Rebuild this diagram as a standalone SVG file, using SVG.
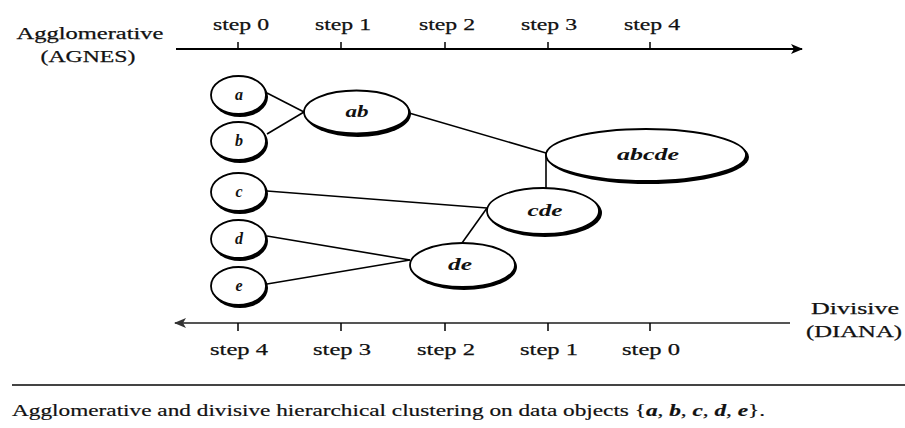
<svg xmlns="http://www.w3.org/2000/svg" width="905" height="428" viewBox="0 0 905 428">
<style>
text{font-family:"Liberation Serif","DejaVu Serif",serif;fill:#111}
.lbl{font-size:17px;text-anchor:middle;stroke:#111;stroke-width:0.25}
.nl{font-size:16px;font-style:italic;font-weight:bold;text-anchor:middle}
.sh{fill:#000}
.nd{fill:#fff;stroke:#000;stroke-width:1.8}
.ln{stroke:#000;stroke-width:1.6;fill:none}
.tk{stroke:#000;stroke-width:1.5}
</style>
<defs>
<marker id="arr" markerWidth="12" markerHeight="10" refX="11" refY="5" orient="auto" markerUnits="userSpaceOnUse">
<path d="M0,0 L12,5 L0,10 L3,5 Z" fill="#000"/>
</marker>
<marker id="arrg" markerWidth="12" markerHeight="10" refX="11" refY="5" orient="auto" markerUnits="userSpaceOnUse">
<path d="M0,0 L12,5 L0,10 L3,5 Z" fill="#333"/>
</marker>
</defs>
<rect width="905" height="428" fill="#fff"/>

<g id="top-axis">
<line x1="176" y1="49" x2="802" y2="49" stroke="#000" stroke-width="1.8" marker-end="url(#arr)"/>
<line class="tk" x1="238" y1="42" x2="238" y2="49"/>
<line class="tk" x1="341" y1="42" x2="341" y2="49"/>
<line class="tk" x1="445" y1="42" x2="445" y2="49"/>
<line class="tk" x1="548" y1="42" x2="548" y2="49"/>
<line class="tk" x1="650" y1="42" x2="650" y2="49"/>
<text class="lbl" x="241" y="30" textLength="56" lengthAdjust="spacingAndGlyphs">step 0</text>
<text class="lbl" x="343" y="30" textLength="56" lengthAdjust="spacingAndGlyphs">step 1</text>
<text class="lbl" x="447" y="30" textLength="56" lengthAdjust="spacingAndGlyphs">step 2</text>
<text class="lbl" x="549" y="30" textLength="56" lengthAdjust="spacingAndGlyphs">step 3</text>
<text class="lbl" x="652" y="30" textLength="56" lengthAdjust="spacingAndGlyphs">step 4</text>
<text class="lbl" x="90" y="39" textLength="147" lengthAdjust="spacingAndGlyphs">Agglomerative</text>
<text class="lbl" x="88" y="62" textLength="95" lengthAdjust="spacingAndGlyphs">(AGNES)</text>
</g>

<g id="bottom-axis">
<line x1="790" y1="323" x2="175" y2="323" stroke="#555" stroke-width="2.2" marker-end="url(#arrg)"/>
<line class="tk" x1="238" y1="323" x2="238" y2="331"/>
<line class="tk" x1="341" y1="323" x2="341" y2="331"/>
<line class="tk" x1="445" y1="323" x2="445" y2="331"/>
<line class="tk" x1="548" y1="323" x2="548" y2="331"/>
<line class="tk" x1="650" y1="323" x2="650" y2="331"/>
<text class="lbl" x="239" y="355" textLength="58" lengthAdjust="spacingAndGlyphs">step 4</text>
<text class="lbl" x="342" y="355" textLength="58" lengthAdjust="spacingAndGlyphs">step 3</text>
<text class="lbl" x="446" y="355" textLength="58" lengthAdjust="spacingAndGlyphs">step 2</text>
<text class="lbl" x="549" y="355" textLength="58" lengthAdjust="spacingAndGlyphs">step 1</text>
<text class="lbl" x="651" y="355" textLength="58" lengthAdjust="spacingAndGlyphs">step 0</text>
<text class="lbl" x="855" y="314" textLength="88" lengthAdjust="spacingAndGlyphs">Divisive</text>
<text class="lbl" x="854" y="337" textLength="96" lengthAdjust="spacingAndGlyphs">(DIANA)</text>
</g>

<g id="connectors">
<line class="ln" x1="267" y1="93" x2="304" y2="112"/>
<line class="ln" x1="267" y1="134" x2="304" y2="112"/>
<line class="ln" x1="409" y1="113" x2="546" y2="153"/>
<line class="ln" x1="546" y1="153" x2="546" y2="188"/>
<line class="ln" x1="267" y1="191" x2="487" y2="208"/>
<line class="ln" x1="462" y1="243" x2="487" y2="208"/>
<line class="ln" x1="267" y1="236" x2="410" y2="260"/>
<line class="ln" x1="267" y1="284" x2="410" y2="260"/>
</g>

<g id="node-a">
<ellipse class="sh" cx="240" cy="97" rx="28" ry="20"/>
<ellipse class="nd" cx="238.5" cy="95" rx="27.5" ry="19"/>
<text class="nl" x="239" y="100">a</text>
</g>
<g id="node-b">
<ellipse class="sh" cx="240" cy="143" rx="28" ry="20"/>
<ellipse class="nd" cx="238.5" cy="141" rx="27.5" ry="19"/>
<text class="nl" x="239" y="146">b</text>
</g>
<g id="node-c">
<ellipse class="sh" cx="240" cy="194" rx="28" ry="20"/>
<ellipse class="nd" cx="238.5" cy="192" rx="27.5" ry="19"/>
<text class="nl" x="239" y="197">c</text>
</g>
<g id="node-d">
<ellipse class="sh" cx="240" cy="241" rx="28" ry="20"/>
<ellipse class="nd" cx="238.5" cy="239" rx="27.5" ry="19"/>
<text class="nl" x="239" y="244">d</text>
</g>
<g id="node-e">
<ellipse class="sh" cx="240" cy="288" rx="28" ry="20"/>
<ellipse class="nd" cx="238.5" cy="286" rx="27.5" ry="19"/>
<text class="nl" x="239" y="291">e</text>
</g>
<g id="node-ab">
<ellipse class="sh" cx="358" cy="114" rx="53" ry="23"/>
<ellipse class="nd" cx="356.5" cy="112" rx="52.5" ry="21.5"/>
<text class="nl" x="357" y="117" textLength="23" lengthAdjust="spacingAndGlyphs">ab</text>
</g>
<g id="node-abcde">
<ellipse class="sh" cx="648" cy="157" rx="101" ry="27"/>
<ellipse class="nd" cx="646" cy="155" rx="100" ry="26"/>
<text class="nl" x="648" y="160" textLength="62" lengthAdjust="spacingAndGlyphs">abcde</text>
</g>
<g id="node-cde">
<ellipse class="sh" cx="545" cy="213" rx="57" ry="24"/>
<ellipse class="nd" cx="543" cy="211" rx="56" ry="23"/>
<text class="nl" x="545" y="216" textLength="35" lengthAdjust="spacingAndGlyphs">cde</text>
</g>
<g id="node-de">
<ellipse class="sh" cx="464" cy="267" rx="53" ry="23"/>
<ellipse class="nd" cx="462.5" cy="265" rx="52.5" ry="22"/>
<text class="nl" x="460" y="270" textLength="24" lengthAdjust="spacingAndGlyphs">de</text>
</g>

<g id="caption">
<line x1="12" y1="385" x2="905" y2="385" stroke="#444" stroke-width="2"/>
<text x="12" y="416" font-size="17" stroke="#111" stroke-width="0.2" textLength="753" lengthAdjust="spacingAndGlyphs">Agglomerative and divisive hierarchical clustering on data objects {<tspan font-style="italic" font-weight="bold">a</tspan>, <tspan font-style="italic" font-weight="bold">b</tspan>, <tspan font-style="italic" font-weight="bold">c</tspan>, <tspan font-style="italic" font-weight="bold">d</tspan>, <tspan font-style="italic" font-weight="bold">e</tspan>}.</text>
</g>
</svg>
